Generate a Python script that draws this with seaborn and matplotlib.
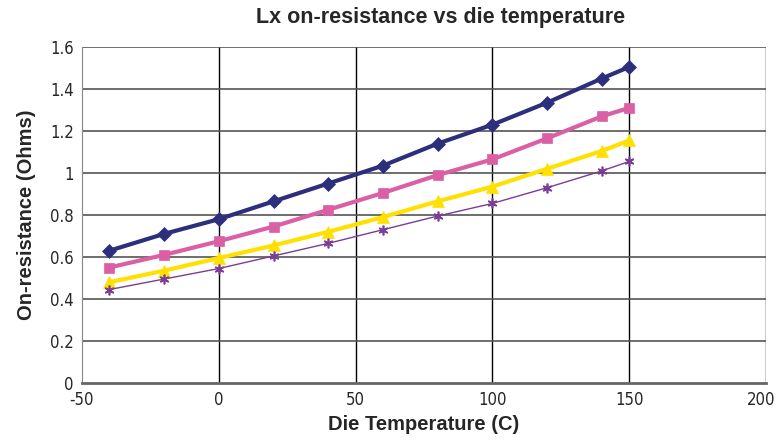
import matplotlib
matplotlib.use('Agg')
import matplotlib.pyplot as plt
import matplotlib.transforms as mtransforms
import seaborn as sns
import pandas as pd

# die temperature (C)
temps = [-40, -20, 0, 20, 40, 60, 80, 100, 120, 140, 150]

# on-resistance (Ohms), one list per curve
r_navy = [0.63, 0.71, 0.78, 0.865, 0.95, 1.035, 1.14, 1.23, 1.335, 1.45, 1.505]
r_pink = [0.55, 0.61, 0.675, 0.745, 0.825, 0.905, 0.99, 1.065, 1.165, 1.27, 1.31]
r_yellow = [0.48, 0.535, 0.595, 0.655, 0.72, 0.79, 0.865, 0.935, 1.02, 1.105, 1.155]
r_purple = [0.445, 0.495, 0.545, 0.605, 0.665, 0.73, 0.795, 0.855, 0.93, 1.01, 1.055]

x_ticks = [-50, 0, 50, 100, 150, 200]
y_ticks = [0, 0.2, 0.4, 0.6, 0.8, 1, 1.2, 1.4, 1.6]
y_labels = ['0', '0.2', '0.4', '0.6', '0.8', '1', '1.2', '1.4', '1.6']

sns.set_style('white')
plt.rcParams['font.family'] = ['Liberation Sans', 'DejaVu Sans']

df = pd.DataFrame({
    'temp': temps * 4,
    'r': r_navy + r_pink + r_yellow + r_purple,
    'series': ['a'] * 11 + ['b'] * 11 + ['c'] * 11 + ['d'] * 11,
})

fig = plt.figure(figsize=(7.76, 4.41), dpi=100)
ax = fig.add_axes([82 / 776, 1 - 383 / 441, (766 - 82) / 776, (383 - 47) / 441])

styles = {
    'a': dict(color='#2B2F7C', marker='D', lw=3, ms=7),
    'b': dict(color='#DB5FA5', marker='s', lw=3, ms=7),
    'c': dict(color='#FFE000', marker='^', lw=3, ms=9),
    'd': dict(color='#7A3C96', marker=(6, 2, 0), lw=1, ms=7),
}
for name, st in styles.items():
    sub = df[df['series'] == name]
    sns.lineplot(data=sub, x='temp', y='r', ax=ax, color=st['color'], lw=st['lw'],
                 marker=st['marker'], markersize=st['ms'], markeredgecolor=st['color'],
                 markeredgewidth=1.2 if name == 'd' else 0.5, legend=False, zorder=3)

ax.set_xlim(-50, 200)
ax.set_ylim(0, 1.6)
ax.set_xticks(x_ticks)
ax.set_xticklabels([str(t) for t in x_ticks])
ax.set_yticks(y_ticks)
ax.set_yticklabels(y_labels)
ax.tick_params(length=0, pad=6)
# narrow tick font, like the original
for lab in ax.get_xticklabels() + ax.get_yticklabels():
    lab.set_family('DejaVu Sans')
    lab.set_stretch('condensed')
    lab.set_fontsize(12)
# keep the last x label inside the picture
last = ax.get_xticklabels()[-1]
last.set_transform(last.get_transform() + mtransforms.ScaledTranslation(-5 / 100, 0, fig.dpi_scale_trans))

for t in x_ticks[1:]:
    ax.axvline(t, color='black', lw=1, zorder=1)
for t in y_ticks[1:]:
    ax.axhline(t, color='#555555', lw=1.2, zorder=1)

for side in ['top', 'right']:
    ax.spines[side].set_visible(False)
ax.spines['left'].set_color('#888888')
ax.spines['bottom'].set_color('#666666')
ax.spines['bottom'].set_linewidth(2)

ax.set_xlabel('Die Temperature (C)', fontsize=14.5, fontweight='bold', labelpad=4)
ax.set_ylabel('On-resistance (Ohms)', fontsize=14.5, fontweight='bold', labelpad=10)
fig.text(441 / 776, 1 - 18 / 441, 'Lx on-resistance vs die temperature',
         fontsize=15.5, fontweight='bold', ha='center', va='center')

fig.savefig('out.png', dpi=100)
